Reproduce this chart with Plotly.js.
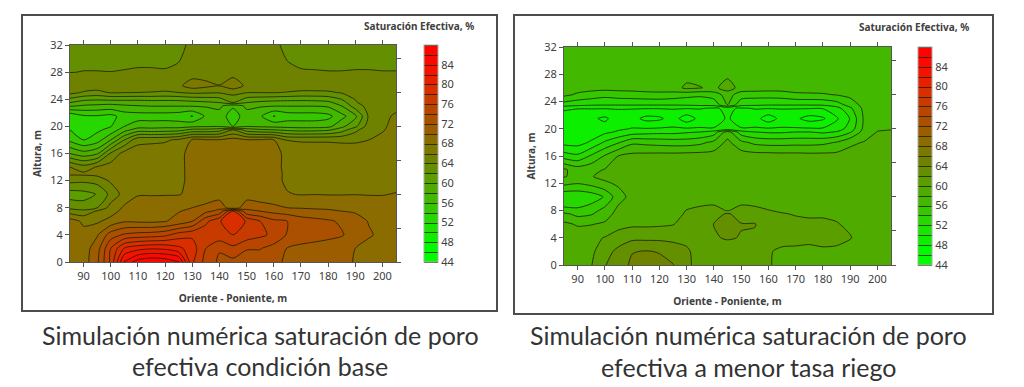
<!DOCTYPE html>
<html><head><meta charset="utf-8">
<script src="https://cdn.plot.ly/plotly-3.0.1.min.js"></script>
<style>html,body{margin:0;padding:0;background:#fff}#c{width:1024px;height:387px}</style>
</head><body><div id="c"></div>
<script>
const xPos=[85,90,95,100,105,110,115,120,125,130,135,140,145,150,155,160,165,170,175,180,185,190,195,200,205];
const yPos=[0,2,4,6,7.5,8,10,12,13,14,16,18,19.5,20,21.5,23,23.5,25,26,28,32];
const xTicks=[90,100,110,120,130,140,150,160,170,180,190,200];
const yTicks=[0,4,8,12,16,20,24,28,32];
const colorTicks=[44,48,52,56,60,64,68,72,76,80,84];
const xTitle="Oriente - Poniente, m", yTitle="Altura, m", barTitle="Saturación Efectiva, %";
const captionLeft=["Simulación numérica saturación de poro","efectiva condición base"];
const captionRight=["Simulación numérica saturación de poro","efectiva a menor tasa riego"];

// Condición base, one row per height in yPos
const b00=[68.9,69,71.6,76.4,84.4,87,87.8,87.4,86.3,78.3,75.3,73.6,73.4,73.3,73,72.3,71.8,71.5,71.2,70.7,70.4,69.9,69.6,69.4,69.3];
const b02=[69,69,71.1,76,80.2,81.3,81.8,81.6,80.5,79,76,74.2,75.5,74.1,74.1,73.2,71.9,71.4,71.1,70.9,70.5,70,69.4,69.1,69];
const b04=[68.6,68.7,69.8,73,74.3,74.8,75,75.5,77,77.6,77.4,77.4,78,77.2,76.4,75.6,73.8,73.3,73,72.6,72.2,71,70.2,69.6,69.4];
const b06=[69,67.6,67.7,68.7,69.8,69.7,69.6,69.9,70.7,72,75.5,77.8,79.5,77.8,76,74.5,74,73.1,72.7,72.3,71.7,70.8,69.9,69.4,69.2];
const b075=[65,64.7,66.2,67.2,68.6,69,69,69.3,69.9,70.4,71.5,72.6,78.3,72.5,72,71.4,71,70.6,70.4,70.3,70,69.8,69.4,69.2,69.1];
const b08=[63.5,62.8,64,66.8,68.3,68.7,68.8,69,69.4,70,70.6,71.5,68.5,71.5,71,70.5,70,69.9,69.8,69.7,69.6,69.4,69.1,69,68.9];
const b10=[61,61.3,62.1,64.6,66.8,67.9,67.9,67.9,67.9,68.4,68.6,68.8,68.5,68.8,68.6,68.5,68.1,67.9,67.95,67.9,67.9,67.95,67.9,67.9,68.1];
const b12=[64.6,64.4,64.8,66.3,67.2,67.5,67.5,67.5,67.6,68.5,68.7,68.8,68.9,68.8,68.7,68.5,67.7,67.5,67.4,67.4,67.4,67.4,67.3,67.3,67.3];
const b13=[66.3,66.4,66.6,66.9,67.3,67.5,67.5,67.5,67.6,68.5,68.7,68.8,68.9,68.8,68.7,68.5,67.7,67.5,67.4,67.4,67.4,67.4,67.3,67.3,67.3];
const b14=[66.1,64.8,66.2,66.9,67.2,67.3,67.4,67.5,67.6,68.5,68.7,68.8,68.9,68.8,68.7,68.5,67.6,67.4,67.3,67.3,67.3,67.3,67.3,67.3,67.3];
const b16=[60,58.8,59.7,64.3,66.8,67,67,67.3,67.6,68.5,68.6,68.7,68.9,68.7,68.6,68.5,67.6,67.1,67,67,67,67,67.1,67.1,67.2];
const b18=[55.5,54,55,58,62,65.4,65.6,65.7,66.4,68.2,68.2,68.2,68.8,68.2,68.2,68.1,65.9,65.8,65.8,65.8,65.7,65.7,66,66.6,67];
const b195=[54,52.8,53.6,54.6,57.2,58.9,58.8,59,59.2,60.5,60.5,61,64,61,60.3,60,59.5,59.2,59.3,59.6,61,63.4,65.5,65.8,66.8];
const b20=[53.4,52.6,53.4,53.9,56,57.2,57.2,57.3,57.2,57.6,57.8,57.9,56,57.9,57.7,57.5,57.3,57.2,57.2,57.4,59.5,61.5,65,65.7,66.6];
const b215=[52.2,53.7,53.8,53.4,54.8,55,55,55,54.8,53.9,56.3,57,55,57,56.3,53.9,54.9,55,55,55.4,57.3,59.5,64.3,65.5,66.3];
const b23=[58.2,57.7,57.5,57.3,57.7,57.9,58.05,58.05,58.05,58.1,58.2,58.5,56.3,58.5,58.2,58.05,58.05,58.05,58.05,58.3,60,63,64.7,64.9,65.5];
const b235=[60,59,58.8,58.7,58.8,58.8,59,59,59,59.3,59.6,60,62,60,59.5,59.2,59.1,59.1,59.2,59.5,61,63.8,64.9,65,65.8];
const b25=[64.7,63.8,63.4,64.2,64.1,64,63.9,63.7,64,64.4,64.3,64.2,64.7,64.1,64.1,64.1,63.9,63.6,63.6,63.7,64.2,64.5,64.7,64.8,64.8];
const b26=[65.4,65.2,65.2,65.2,65.2,65.2,65.3,65.3,65.6,67,66.5,66.05,67.2,65.6,65.4,65.3,65.2,65.2,65.2,65.2,65.2,65.1,65.1,65.1,65.1];
const b28=[63.95,64.05,64.05,64.02,64.1,64.2,64.2,64.15,64.4,65,65.1,65.1,65.2,65.1,65.1,65,64.5,64.15,64.1,64.05,64.05,64.1,64.1,64.05,64.05];
const b32=[63,63,63,63,63,63,63,63,63.3,64.6,64.6,64.6,64.6,64.6,64.6,64.6,63.3,63,63,63,63,63,63,63,63];

// Menor tasa de riego, one row per height in yPos
const r00=[59.2,59.3,59.9,61.9,63,64.4,64.7,64.5,64.1,62.6,60.9,60.5,60.4,60.4,60.3,60.1,59.7,59.6,59.5,59.5,59.4,59.3,59.2,59.1,59.1];
const r02=[59.1,59.2,59.6,61.1,62.6,63.9,64.1,63.9,63,62.4,60.9,60.6,60.9,60.5,60.3,60.1,59.8,59.8,59.8,59.7,59.5,59.3,59.1,59.05,59.05];
const r04=[58.9,59.05,59.5,60.1,60.8,61.5,61.5,61.5,61.5,61.3,61.5,61.8,62.2,61.9,61.7,60.9,60.4,60.3,60.2,60.6,60.7,60.1,59.2,59.05,58.9];
const r06=[58.4,57.8,57.9,58.3,59.4,59.6,59.6,59.7,59.9,60.8,61.2,62.05,62.8,62.1,62.1,60.9,60.7,60.4,60.3,60.3,60.1,59.7,59.2,59.05,58.9];
const r075=[56.5,55.4,55.8,57.1,58.7,59.05,59.05,59.3,59.7,60.1,60.6,61.05,62.3,61.05,60.8,60.3,60.1,59.9,59.8,59.8,59.7,59.4,59.1,58.9,58.9];
const r08=[54.6,54.4,55.2,56.7,58.5,58.8,58.9,59.1,59.5,60.05,60.4,60.6,59.9,60.6,60.4,60.05,59.8,59.7,59.6,59.6,59.5,59.3,59.05,58.9,58.8];
const r10=[52.3,52.4,52.8,54.2,57.3,58.6,58.8,58.9,58.9,59.05,59.1,59.1,59.2,59.1,59.1,59.05,59.05,59.05,59.05,59.05,58.9,58.9,58.8,58.8,58.8];
const r12=[56.6,56.1,56.7,57.7,58.3,58.8,58.9,59.05,59.05,59.05,59.05,59.05,59.1,59.05,59.05,59.05,59.05,59.05,59.05,59.05,59.05,59.05,58.9,58.9,58.8];
const r13=[58.2,57.2,57.9,58.5,58.8,58.9,59.05,59.05,59.05,59.05,59.05,59.05,59.05,59.05,59.05,59.05,59.05,59.05,59.05,59.05,59.05,59.05,58.9,58.9,58.9];
const r14=[58.3,57.05,57.4,58.1,58.7,58.9,59.05,59.05,59.05,59.05,59.05,59.1,59.1,59.1,59.05,59.05,59.05,59.05,59.05,59.05,59.05,59.05,58.9,58.9,58.9];
const r16=[53,52.4,54.3,56.2,58.05,58.6,58.7,58.8,58.8,58.9,58.9,58.9,59.1,59.05,58.9,58.9,58.8,58.8,58.7,58.7,58.7,58.8,58.8,58.9,58.9];
const r18=[49.3,49.2,50.3,52.3,53.8,55.6,55.4,55.2,55.05,55.05,55.5,56.5,58.5,56.5,55.5,55.2,55.2,55.3,55.3,55.5,56.1,57.6,58.1,58.4,58.6];
const r195=[48.4,48.4,48.8,49.6,50.3,51,51.3,51.5,51.5,51.8,52.1,53,57,53,52.1,51.8,51.8,52.1,52.1,51.7,52.2,53.8,56.8,58.1,58.2];
const r20=[48.3,48.3,48.4,48.9,49.7,50.1,50.1,50.2,50.2,50.2,50.2,50.1,50.3,50.1,50.2,50.2,50.2,50.2,50.2,50.2,51,52.8,56.4,57.7,57.9];
const r215=[48.4,48.4,48.4,47.6,49.2,48.8,47.4,47.6,49,46.8,48.7,49.2,50.2,49.2,48.9,46.8,48.8,48.4,47.2,47.7,49.7,52.1,56.2,57.1,57.6];
const r23=[50.5,50.1,50.1,50.1,50.1,50.1,50.1,50.1,50.1,50.1,50.1,49.8,50.3,49.8,50.1,50.1,50.1,50.1,50.1,50.1,51.2,53.6,56.5,57.1,57.4];
const r235=[53,52.5,52.2,52.1,52.1,52.1,52.1,52.1,52.1,52.2,52.4,52.6,56,52.6,52.3,52.1,52.1,52.1,52.1,52.2,53,54.8,56.7,57.1,57.2];
const r25=[56.5,55.7,55.2,54.7,55.05,55.2,55.4,55.5,55.2,54.7,54.4,55.05,56.8,55.05,54.9,54.9,55.05,55.6,55.7,55.8,56.1,56.6,56.9,57.1,57.1];
const r26=[57,56.8,56.7,56.7,56.7,56.7,56.8,56.8,57.2,58.4,58.1,57.5,59,57.2,57.1,56.9,56.9,56.9,56.9,56.9,57.1,57.1,57.1,57.1,57.1];
const r28=[57.1,57.1,57.1,57.1,57.1,57.1,57.1,57.1,57.1,57.3,57.2,57.1,57.5,57.1,57.1,57.1,57.1,57.1,57.1,57.1,57.1,57.1,57.1,57.1,57.1];
const r32=[57.1,57.1,57.1,57.1,57.1,57.1,57.1,57.1,57.1,57.1,57.1,57.1,57.1,57.1,57.1,57.1,57.1,57.1,57.1,57.1,57.1,57.1,57.1,57.1,57.1];

const baseZ=[b00,b02,b04,b06,b075,b08,b10,b12,b13,b14,b16,b18,b195,b20,b215,b23,b235,b25,b26,b28,b32];
const riegoZ=[r00,r02,r04,r06,r075,r08,r10,r12,r13,r14,r16,r18,r195,r20,r215,r23,r235,r25,r26,r28,r32];

const scaleValues=[44,47,52,56,60,64,68,72,76,80,84,88];
const scaleColors=["#00ff00","#00fa00","#1ee100","#3cbe00","#55a500","#698700","#827300","#a55500","#be4100","#e12800","#fa0a00","#ff0000"];
const colorscale=scaleValues.map((v,i)=>[(v-44)/44,scaleColors[i]]);
const txt="#404040", fontName="'Noto Sans',sans-serif";

function contour(z,xa,ya,barX,barBottom,barLen){
  return {type:"contour",x:xPos,y:yPos,z:z,xaxis:xa,yaxis:ya,colorscale:colorscale,zmin:44,zmax:88,
    autocontour:false,contours:{start:44,end:88,size:2,coloring:"fill",showlines:true},
    line:{color:"rgba(30,30,0,0.8)",width:1,smoothing:0.7},hoverinfo:"skip",
    colorbar:{x:barX,xanchor:"left",y:barBottom,yanchor:"bottom",len:barLen,lenmode:"fraction",
      thickness:14,thicknessmode:"pixels",xpad:0,ypad:0,outlinewidth:1,outlinecolor:"#aaa",ticks:"",
      tickmode:"array",tickvals:colorTicks,ticktext:colorTicks.map(String),ticklabelposition:"outside",
      tickfont:{family:fontName,size:11,color:txt}}};
}
function xAxis(l,r,anchor){
  return {domain:[l/1024,r/1024],range:[85,205],anchor:anchor,tickmode:"array",tickvals:xTicks,ticks:"outside",ticklen:4,tickcolor:"#555",
    showline:true,linecolor:"#555",linewidth:1,mirror:"ticks",showgrid:false,zeroline:false,tickfont:{family:fontName,size:11,color:txt},
    title:{text:"<b>"+xTitle+"</b>",font:{family:fontName,size:10.2,color:txt},standoff:12}};
}
function yAxis(t,b,anchor){
  return {domain:[1-b/387,1-t/387],range:[0,32],anchor:anchor,tickmode:"array",tickvals:yTicks,ticks:"outside",ticklen:4,tickcolor:"#555",
    showline:true,linecolor:"#555",linewidth:1,showgrid:false,zeroline:false,tickfont:{family:fontName,size:11,color:txt},
    title:{text:"<b>"+yTitle+"</b>",font:{family:fontName,size:10.2,color:txt},standoff:6}};
}
function sideAxis(t,b,over){
  return {domain:[1-b/387,1-t/387],range:[0,32],overlaying:over,side:"right",dtick:5,tick0:0,ticks:"outside",ticklen:4,tickcolor:"#555",
    showticklabels:false,showgrid:false,zeroline:false,showline:true,linecolor:"#555"};
}
function anchorTrace(xa,ya){ return {type:"scatter",mode:"markers",x:[xPos[0]],y:[yPos[0]],xaxis:xa,yaxis:ya,marker:{opacity:0},hoverinfo:"skip",showlegend:false}; }
function note(text,px,py,size,bold,color,anchor){
  return {text:bold?"<b>"+text+"</b>":text,xref:"paper",yref:"paper",x:px/1024,y:1-py/387,xanchor:anchor,yanchor:"middle",showarrow:false,
    font:{family:bold?fontName:"Lato,sans-serif",size:size,color:color}};
}
function frame(x0,y0,x1,y1){
  return {type:"rect",xref:"paper",yref:"paper",x0:x0/1024,x1:x1/1024,y0:1-y1/387,y1:1-y0/387,line:{color:"#4d4d4d",width:2},layer:"below"};
}
const data=[
  contour(baseZ,"x","y",424/1024,1-262/387,217/387),
  contour(riegoZ,"x2","y2",918/1024,1-265/387,218/387),
  anchorTrace("x","y3"),anchorTrace("x2","y4")
];
const layout={width:1024,height:387,margin:{l:0,r:0,t:0,b:0},paper_bgcolor:"#fff",plot_bgcolor:"#fff",showlegend:false,
  xaxis:xAxis(70,396,"y"),yaxis:yAxis(45,262,"x"),
  xaxis2:xAxis(564,891,"y2"),yaxis2:yAxis(47,265,"x2"),
  yaxis3:sideAxis(45,262,"y"),yaxis4:Object.assign(sideAxis(47,265,"y2"),{anchor:"x2"}),
  shapes:[frame(22,15,497,311),frame(514,15,993,314)],
  annotations:[
    note(barTitle,476,26,10,true,txt,"right"),
    note(barTitle,971,27,10,true,txt,"right"),
    note(captionLeft[0],260,335,25,false,"#333","center"),
    note(captionLeft[1],260,366,25,false,"#333","center"),
    note(captionRight[0],748,335,25,false,"#333","center"),
    note(captionRight[1],748,367,25,false,"#333","center")
  ]};
layout.yaxis3.anchor="x";
Plotly.newPlot("c",data,layout,{displayModeBar:false,staticPlot:true});
</script></body></html>
